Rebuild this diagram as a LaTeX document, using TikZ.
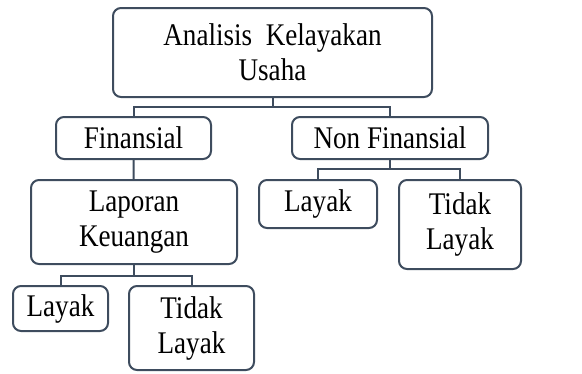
\documentclass[tikz,border=0pt]{standalone}
\usepackage{fontspec}
\setmainfont[FakeStretch=0.86]{Liberation Serif}
\definecolor{garis}{HTML}{3E4C5E}
\begin{document}
\begin{tikzpicture}[x=1pt, y=-1pt,
    every node/.style={font=\fontsize{31.5}{35}\selectfont, align=center},
    kotak/.style={draw=garis, line width=2pt, rounded corners=8pt, inner sep=0pt}]
    \useasboundingbox (0,0) rectangle (582,373);
    \node (analisis) [kotak, minimum width=319pt, minimum height=89pt] at (272.5,52.5) {Analisis~~Kelayakan\\Usaha};
    \node (fin)      [kotak, minimum width=155pt, minimum height=42pt] at (133.5,138) {Finansial};
    \node (nonfin)   [kotak, minimum width=196pt, minimum height=42pt] at (390,138) {Non Finansial};
    \node (laporan)  [kotak, minimum width=206pt, minimum height=84pt] at (134,222) {Laporan\\Keuangan};
    \node (layakb)   [kotak, minimum width=118pt, minimum height=48pt] at (318,204) {Layak};
    \node (tidakb)   [kotak, minimum width=122pt, minimum height=89pt] at (460,224.5) {Tidak\\Layak};
    \node (layaka)   [kotak, minimum width=95pt,  minimum height=45pt] at (60.5,308.5) {Layak};
    \node (tidaka)   [kotak, minimum width=125pt, minimum height=84pt] at (191.5,328) {Tidak\\Layak};
    \draw[garis, line width=2pt] (analisis.south) -- ++(0,9) -| (fin.north);
    \draw[garis, line width=2pt] (analisis.south) -- ++(0,9) -| (nonfin.north);
    \draw[garis, line width=2pt] (fin) -- (laporan);
    \draw[garis, line width=2pt] (nonfin.south) -- ++(0,9) -| (layakb.north);
    \draw[garis, line width=2pt] (nonfin.south) -- ++(0,9) -| (tidakb.north);
    \draw[garis, line width=2pt] (laporan.south) -- ++(0,11) -| (layaka.north);
    \draw[garis, line width=2pt] (laporan.south) -- ++(0,11) -| (tidaka.north);
  \end{tikzpicture}
\end{document}
